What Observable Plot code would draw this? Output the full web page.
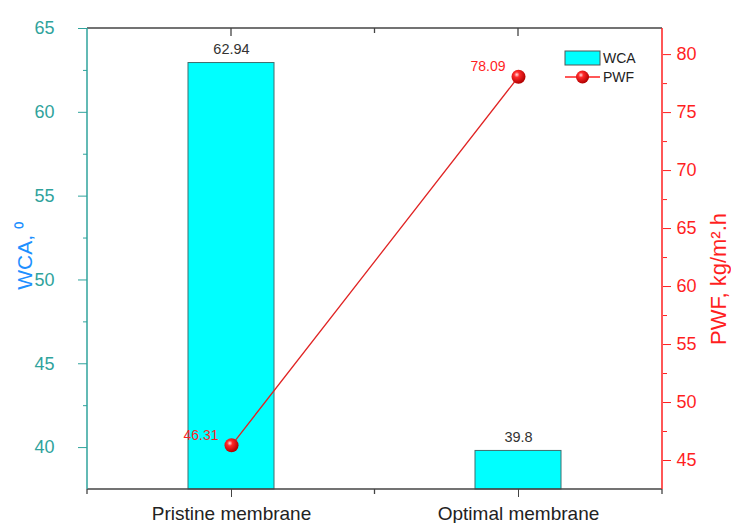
<!DOCTYPE html>
<html>
<head>
<meta charset="utf-8">
<script src="https://cdn.jsdelivr.net/npm/d3@7"></script>
<script src="https://cdn.jsdelivr.net/npm/@observablehq/plot@0.6"></script>
<style>
  html, body { margin: 0; padding: 0; background: #fff; }
  #chart svg { font-family: "Liberation Sans", Arial, sans-serif; display: block; }
</style>
</head>
<body>
<div id="chart"></div>
<script>
// ---- data ----
const categories = ["Pristine membrane", "Optimal membrane"];
const wcaValues = [62.94, 39.8];
const pwfValues = [46.31, 78.09];
const wcaTicks = [40, 45, 50, 55, 60, 65];
const wcaMinor = [42.5, 47.5, 52.5, 57.5, 62.5];
const pwfTicks = [45, 50, 55, 60, 65, 70, 75, 80];
const pwfMinor = [47.5, 52.5, 57.5, 62.5, 67.5, 72.5, 77.5];
const wcaDomain = [37.5, 65];
const pwfDomain = [42.5, 82.25];
const legendItems = ["WCA", "PWF"];
const titleLeft = "WCA, ⁰";
const titleRight = "PWF, kg/m².h";

// ---- helpers: map PWF onto the WCA (y) scale ----
const toY = v => wcaDomain[0] + (v - pwfDomain[0]) * (wcaDomain[1] - wcaDomain[0]) / (pwfDomain[1] - pwfDomain[0]);
const fromY = y => pwfDomain[0] + (y - wcaDomain[0]) * (pwfDomain[1] - pwfDomain[0]) / (wcaDomain[1] - wcaDomain[0]);

const rows = categories.map((c, i) => ({cat: c, wca: wcaValues[i], pwf: pwfValues[i]}));

const teal = "#2fa39c";
const red = "#ff1f1f";
const dark = "#444";
const FONT = "Liberation Sans, Arial, sans-serif";

// decorations: colored frame sides, inner ticks, legend, gradient
function decorations(index, scales, values, dimensions) {
  const {width, height, marginLeft, marginRight, marginTop, marginBottom} = dimensions;
  const x0 = marginLeft, x1 = width - marginRight, y0 = marginTop, y1 = height - marginBottom;
  const x = scales.x;
  const bw = x.bandwidth ? x.bandwidth() : 0;
  const centers = categories.map(c => x(c) + bw / 2);
  const mids = [];
  for (let i = 0; i < centers.length - 1; i++) mids.push((centers[i] + centers[i + 1]) / 2);
  const g = d3.create("svg:g");
  const defs = g.append("defs");
  const grad = defs.append("radialGradient").attr("id", "ball").attr("cx", "38%").attr("cy", "35%").attr("r", "65%");
  grad.append("stop").attr("offset", "0%").attr("stop-color", "#ffe0e0");
  grad.append("stop").attr("offset", "30%").attr("stop-color", "#ff2a2a");
  grad.append("stop").attr("offset", "100%").attr("stop-color", "#b00000");
  // top & bottom
  g.append("line").attr("x1", x0).attr("x2", x1).attr("y1", y0).attr("y2", y0).attr("stroke", dark).attr("stroke-width", 1.5);
  g.append("line").attr("x1", x0).attr("x2", x1).attr("y1", y1).attr("y2", y1).attr("stroke", dark).attr("stroke-width", 1.5);
  // top inward ticks
  centers.forEach(cx => g.append("line").attr("x1", cx).attr("x2", cx).attr("y1", y0).attr("y2", y0 + 8).attr("stroke", dark).attr("stroke-width", 1.3));
  mids.forEach(cx => g.append("line").attr("x1", cx).attr("x2", cx).attr("y1", y0).attr("y2", y0 + 5).attr("stroke", dark).attr("stroke-width", 1.3));
  // bottom minor ticks
  [x0, ...mids, x1].forEach(cx => g.append("line").attr("x1", cx).attr("x2", cx).attr("y1", y1).attr("y2", y1 + 5).attr("stroke", dark).attr("stroke-width", 1.3));
  // left & right colored axis lines
  g.append("line").attr("x1", x0).attr("x2", x0).attr("y1", y0).attr("y2", y1).attr("stroke", teal).attr("stroke-width", 1.5);
  g.append("line").attr("x1", x1).attr("x2", x1).attr("y1", y0).attr("y2", y1).attr("stroke", red).attr("stroke-width", 1.5);
  // legend
  const lx = x1 - 97, ly = y0 + 23;
  g.append("rect").attr("x", lx).attr("y", ly).attr("width", 35).attr("height", 14).attr("fill", "#00ffff").attr("stroke", "#555").attr("stroke-width", 1);
  g.append("text").attr("x", lx + 38).attr("y", ly + 7).attr("dy", "0.35em").attr("text-anchor", "start").attr("font-size", 14).attr("font-family", FONT).attr("fill", "#222").text(legendItems[0]);
  const py = ly + 26;
  g.append("line").attr("x1", lx).attr("x2", lx + 35).attr("y1", py).attr("y2", py).attr("stroke", red).attr("stroke-width", 1.3);
  g.append("circle").attr("cx", lx + 17.5).attr("cy", py).attr("r", 6.5).attr("fill", "url(#ball)");
  g.append("text").attr("x", lx + 38).attr("y", py).attr("dy", "0.35em").attr("text-anchor", "start").attr("font-size", 14).attr("font-family", FONT).attr("fill", "#222").text(legendItems[1]);
  return g.node();
}

const chart = Plot.plot({
  width: 731,
  height: 523,
  marginLeft: 87,
  marginRight: 69,
  marginTop: 28,
  marginBottom: 34,
  style: {fontFamily: FONT, background: "#fff"},
  x: {domain: categories, paddingInner: 0.7, paddingOuter: 0.35, axis: null},
  y: {domain: wcaDomain, axis: null, label: null},
  marks: [
    Plot.barY(rows, {x: "cat", y1: wcaDomain[0], y2: "wca", fill: "#00ffff", stroke: "#3f6f6f", strokeWidth: 1}),
    Plot.text(rows, {x: "cat", y: "wca", text: d => String(d.wca), dy: -14, fontSize: 14.5, fill: "#333"}),
    Plot.line(rows, {x: "cat", y: d => toY(d.pwf), stroke: "#e02424", strokeWidth: 1.3}),
    Plot.dot(rows, {x: "cat", y: d => toY(d.pwf), r: 7, fill: "url(#ball)", stroke: "none"}),
    Plot.text(rows, {x: "cat", y: d => toY(d.pwf), text: d => String(d.pwf), textAnchor: "end", dx: -13, dy: -10, fontSize: 14, fill: red}),
    decorations,
    Plot.axisY(wcaTicks, {anchor: "left", tickSize: 9, tickPadding: 24, fontSize: 18, color: teal, label: null}),
    Plot.axisY(wcaMinor, {anchor: "left", tickSize: 4, tickFormat: () => "", color: teal, label: null}),
    Plot.axisY(pwfTicks.map(toY), {anchor: "right", tickSize: 8, tickPadding: 6, fontSize: 18, color: red, label: null, tickFormat: d => String(Math.round(fromY(d)))}),
    Plot.axisY(pwfMinor.map(toY), {anchor: "right", tickSize: 4, tickFormat: () => "", color: red, label: null}),
    Plot.axisX({anchor: "bottom", tickSize: 8, tickPadding: 8.5, fontSize: 19, fill: "#222", stroke: dark, label: null}),
    Plot.text([titleLeft], {frameAnchor: "left", text: d => d, rotate: -90, textAnchor: "middle", lineAnchor: "middle", dx: -62, dy: -3, fontSize: 21, fill: "#1e90ff"}),
    Plot.text([titleRight], {frameAnchor: "right", text: d => d, rotate: -90, textAnchor: "middle", lineAnchor: "middle", dx: 56, dy: 20, fontSize: 22, fill: red})
  ]
});
document.getElementById("chart").appendChild(chart);
</script>
</body>
</html>
